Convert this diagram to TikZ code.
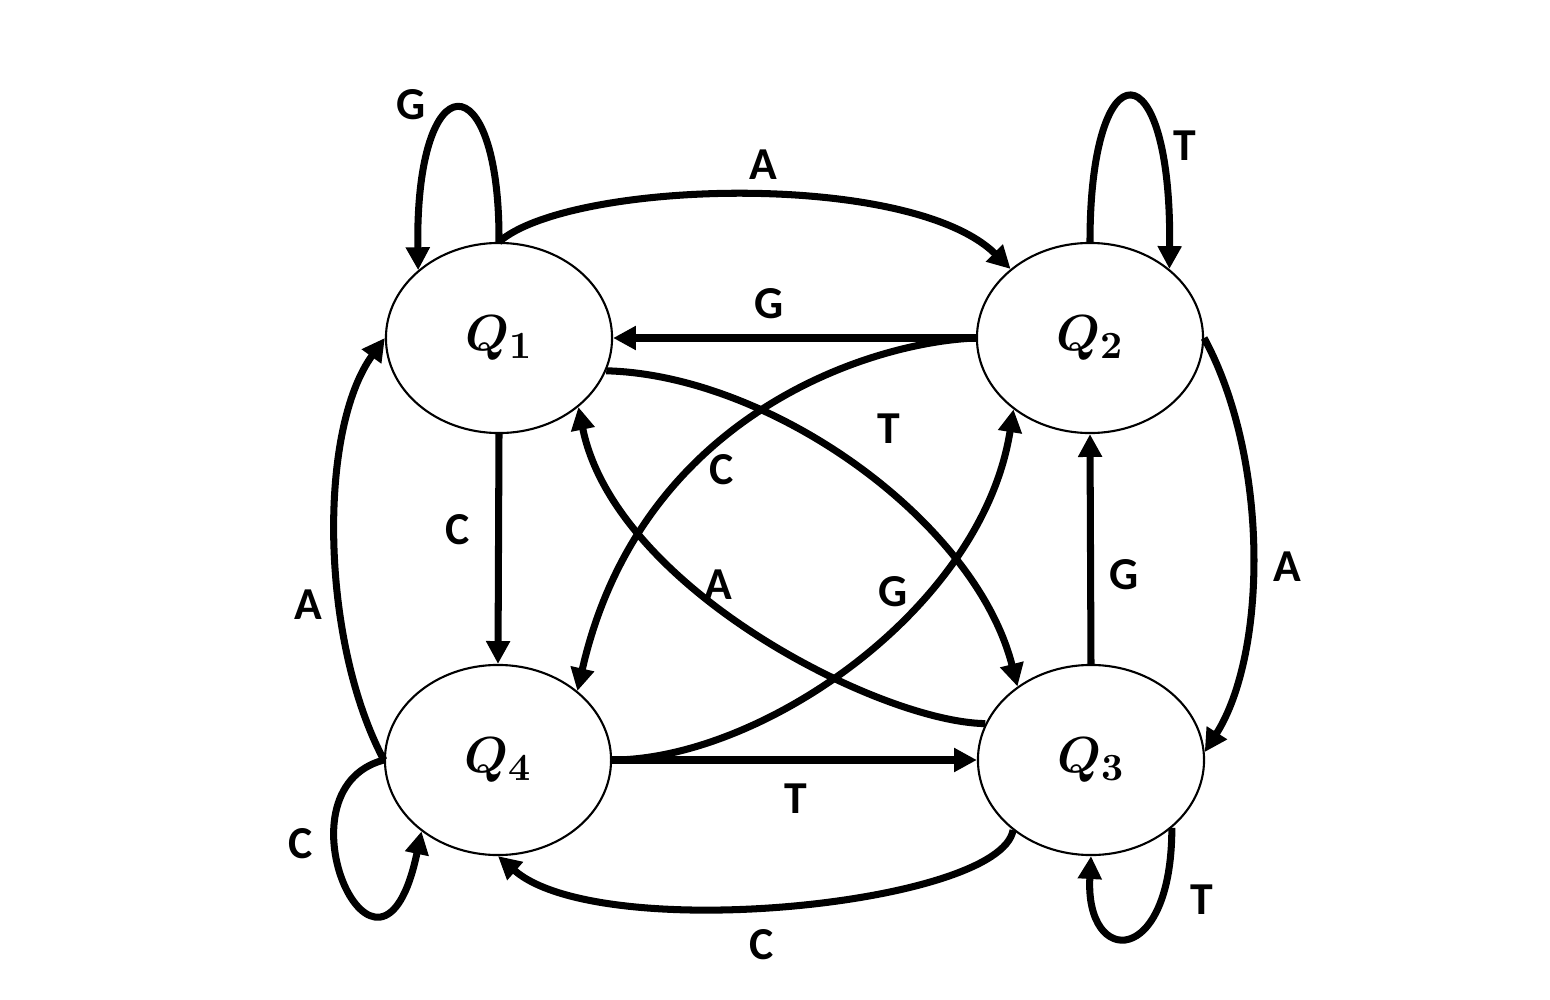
\documentclass[tikz,border=0pt]{standalone}
\usepackage{fontspec}
\setmainfont{Carlito}
\usetikzlibrary{shapes.geometric,arrows.meta}
\begin{document}
\begin{tikzpicture}[x=0.01cm,y=-0.01cm,
  state/.style={ellipse,draw,line width=0.6pt,minimum width=2.26cm,minimum height=1.9cm,inner sep=0pt,font=\fontsize{15.5}{17}\selectfont\boldmath},
  edge/.style={line width=2pt,-{Triangle[length=6.5pt,width=6.5pt]}},
  lbl/.style={font=\fontsize{13}{15}\selectfont\bfseries,inner sep=0pt}]
\useasboundingbox (0,0) rectangle (1550,1000);
\node[state] (Q1) at (499,338) {$Q_1$};
\node[state] (Q2) at (1090,338) {$Q_2$};
\node[state] (Q3) at (1091,760) {$Q_3$};
\node[state] (Q4) at (498,760) {$Q_4$};
% edges
\draw[edge] (Q1.north) .. controls (500,60) and (415,60) .. (Q1.140);
\draw[edge] (Q1.north) .. controls (570,180) and (910,170) .. (Q2.139);
\draw[edge] (Q2.west) -- (Q1.east);
\draw[edge] (Q1.-17) .. controls (770,375) and (975,520) .. (Q3.135);
\draw[edge] (Q2.west) .. controls (870,342) and (640,415) .. (Q4.41);
\draw[edge] (Q1.south) -- (Q4.north);
\draw[edge] (Q3.161) .. controls (880,722) and (615,588) .. (Q1.-41.5);
\draw[edge] (Q4.east) .. controls (760,760) and (982,610) .. (Q2.223);
\draw[edge] (Q3.north) -- (Q2.south);
\draw[edge] (Q2.east) .. controls (1270,460) and (1267,654) .. (Q3.4);
\draw[edge] (Q2.north) .. controls (1090,45) and (1172,45) .. (Q2.41);
\draw[edge] (Q4.west) .. controls (320,640) and (318,430) .. (Q1.west);
\draw[edge] (Q4.west) .. controls (270,790) and (380,1030) .. (Q4.223);
\draw[edge] (Q4.east) -- (Q3.west);
\draw[edge] (Q3.222) .. controls (1000,905) and (600,945) .. (Q4.south);
\draw[edge] (Q3.320) .. controls (1172,968) and (1085,968) .. (Q3.south);
% labels
\node[lbl] (l1) at (411,105) {G};
\node[lbl] (l2) at (763,165) {A};
\node[lbl] (l3) at (769,304) {G};
\node[lbl] (l4) at (1185,146) {T};
\node[lbl] (l5) at (889,429) {T};
\node[lbl] (l6) at (722,470) {C};
\node[lbl] (l7) at (458,530) {C};
\node[lbl] (l8) at (718,585) {A};
\node[lbl] (l9) at (893,592) {G};
\node[lbl] (l10) at (1124,575) {G};
\node[lbl] (l11) at (1287,567) {A};
\node[lbl] (l12) at (308,605) {A};
\node[lbl] (l13) at (301,844) {C};
\node[lbl] (l14) at (796,799) {T};
\node[lbl] (l15) at (762,945) {C};
\node[lbl] (l16) at (1202,900) {T};
\end{tikzpicture}
\end{document}
